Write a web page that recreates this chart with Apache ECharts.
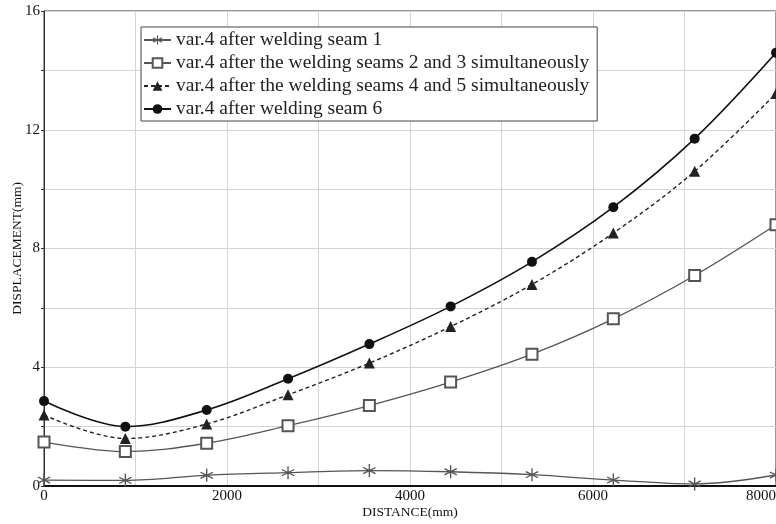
<!DOCTYPE html>
<html>
<head>
<meta charset="utf-8">
<script src="https://cdn.jsdelivr.net/npm/echarts@6/dist/echarts.min.js"></script>
<style>html,body{margin:0;padding:0;background:#fff}#c{width:776px;height:524px}</style>
</head>
<body>
<div id="c"></div>
<script>
var distances = [0, 889, 1778, 2667, 3556, 4444, 5333, 6222, 7111, 8000];
var seriesNames = [
  'var.4 after welding seam 1',
  'var.4 after the welding seams 2 and 3 simultaneously',
  'var.4 after the welding seams 4 and 5 simultaneously',
  'var.4 after welding seam 6'
];
var seam1 = [0.20, 0.19, 0.36, 0.45, 0.52, 0.48, 0.38, 0.20, 0.07, 0.37];
var seams23 = [1.48, 1.16, 1.44, 2.03, 2.71, 3.50, 4.44, 5.63, 7.09, 8.80];
var seams45 = [2.39, 1.60, 2.09, 3.07, 4.14, 5.37, 6.79, 8.52, 10.60, 13.22];
var seam6 = [2.86, 2.00, 2.56, 3.61, 4.78, 6.05, 7.55, 9.39, 11.70, 14.59];
var yTickLabels = [0, 4, 8, 12, 16];
var xTickLabels = [0, 2000, 4000, 6000, 8000];

function pairs(xs, ys) { return xs.map(function (x, i) { return [x, ys[i]]; }); }

var asterisk = 'path://M9,0 L11,0 L11,20 L9,20 Z M0.5,6.1 L1.5,4.4 L19.5,13.9 L18.5,15.6 Z M18.5,4.4 L19.5,6.1 L1.5,15.6 L0.5,13.9 Z';

var serif = 'Liberation Serif';
var chart = echarts.init(document.getElementById('c'), null, {renderer: 'canvas'});
chart.setOption({
  animation: false,
  backgroundColor: '#fff',
  grid: {left: 44, top: 11, right: 0, bottom: 38, show: true, borderColor: '#333', borderWidth: 1,
         containLabel: false, outerBoundsMode: 'none'},
  legend: {
    orient: 'vertical',
    left: 141, top: 27,
    padding: [3, 8, 2, 2],
    itemGap: 3,
    itemWidth: 27, itemHeight: 12,
    backgroundColor: '#fff',
    borderColor: '#444', borderWidth: 1,
    textStyle: {fontFamily: serif, fontSize: 19.5, color: '#222', lineHeight: 19.5},
    data: seriesNames
  },
  xAxis: {
    type: 'value', min: 0, max: 8000, interval: 1000,
    name: 'DISTANCE(mm)', nameLocation: 'middle', nameGap: 19, nameMoveOverlap: false,
    nameTextStyle: {fontFamily: serif, fontSize: 13.5, color: '#111'},
    axisLine: {lineStyle: {color: '#111', width: 2}},
    axisTick: {show: false},
    splitLine: {lineStyle: {color: '#d4d4d4', width: 1}},
    axisLabel: {
      fontFamily: serif, fontSize: 15, color: '#111', margin: 3,
      alignMaxLabel: 'right',
      formatter: function (v) { return xTickLabels.indexOf(v) >= 0 ? String(v) : ''; }
    }
  },
  yAxis: {
    type: 'value', min: 0, max: 16, interval: 2,
    name: 'DISPLACEMENT(mm)', nameLocation: 'middle', nameGap: 20, nameMoveOverlap: false,
    nameTextStyle: {fontFamily: serif, fontSize: 13.5, color: '#111'},
    axisLine: {show: true, lineStyle: {color: '#333', width: 1}},
    axisTick: {show: true, length: 3, lineStyle: {color: '#333'}},
    splitLine: {lineStyle: {color: '#d4d4d4', width: 1}},
    axisLabel: {
      fontFamily: serif, fontSize: 15, color: '#111', margin: 4,
      formatter: function (v) { return yTickLabels.indexOf(v) >= 0 ? String(v) : ''; }
    }
  },
  series: [
    {
      name: seriesNames[0], type: 'line', smooth: 0.35,
      data: pairs(distances, seam1),
      symbol: asterisk, symbolSize: [13, 13],
      lineStyle: {color: '#555', width: 1.3},
      itemStyle: {color: '#555'}
    },
    {
      name: seriesNames[1], type: 'line', smooth: 0.35,
      data: pairs(distances, seams23),
      symbol: 'emptyRect', symbolSize: 11,
      lineStyle: {color: '#555', width: 1.3},
      itemStyle: {color: '#555', borderColor: '#555', borderWidth: 1.4}
    },
    {
      name: seriesNames[2], type: 'line', smooth: 0.35,
      data: pairs(distances, seams45),
      symbol: 'triangle', symbolSize: 11,
      lineStyle: {color: '#222', width: 1.4, type: [4, 3]},
      itemStyle: {color: '#222'}
    },
    {
      name: seriesNames[3], type: 'line', smooth: 0.35,
      data: pairs(distances, seam6),
      symbol: 'circle', symbolSize: 10,
      lineStyle: {color: '#111', width: 1.6},
      itemStyle: {color: '#111'}
    }
  ]
});
</script>
</body>
</html>
